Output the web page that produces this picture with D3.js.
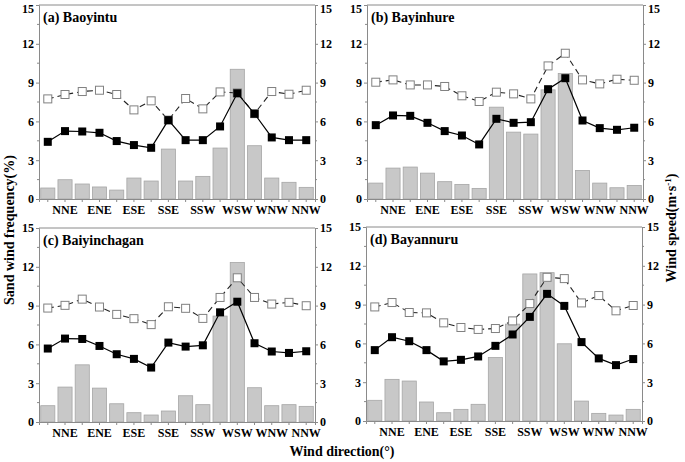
<!DOCTYPE html>
<html>
<head>
<meta charset="utf-8">
<script src="https://cdn.jsdelivr.net/npm/d3@7"></script>
<style>
  body { margin: 0; background: #fff; }
  svg text { font-family: "Liberation Serif", "Times New Roman", serif; font-weight: bold; fill: #000; }
</style>
</head>
<body>
<svg id="chart" width="685" height="462"></svg>
<script>
const directions = ["N", "NNE", "NE", "ENE", "E", "ESE", "SE", "SSE",
  "S", "SSW", "SW", "WSW", "W", "WNW", "NW", "NNW"];
const tickLabels = ["NNE", "ENE", "ESE", "SSE", "SSW", "WSW", "WNW", "NNW"];
const yTicks = [0, 3, 6, 9, 12, 15];

const stations = ["(a) Baoyintu", "(b) Bayinhure", "(c) Baiyinchagan", "(d) Bayannuru"];

// sand wind frequency (%), bars
const freqA = [0.85, 1.49, 1.16, 0.93, 0.69, 1.62, 1.39, 3.86, 1.39, 1.75, 3.94, 10.03, 4.12, 1.62, 1.29, 0.9];
const freqB = [1.23, 2.39, 2.47, 2.0, 1.34, 1.13, 0.82, 7.1, 5.17, 5.02, 8.44, 9.7, 2.21, 1.23, 0.87, 1.05];
const freqC = [1.26, 2.7, 4.42, 2.62, 1.41, 0.72, 0.54, 0.85, 2.03, 1.34, 8.19, 12.33, 2.65, 1.26, 1.34, 1.21];
const freqD = [1.6, 3.22, 3.09, 1.47, 0.64, 0.9, 1.29, 4.91, 7.49, 11.37, 11.47, 5.97, 1.54, 0.59, 0.46, 0.9];

// mean wind speed (m/s), solid line with filled squares
const meanA = [4.42, 5.25, 5.22, 5.12, 4.48, 4.17, 3.96, 6.1, 4.55, 4.55, 5.61, 8.18, 6.59, 4.76, 4.55, 4.55];
const meanB = [5.71, 6.46, 6.43, 5.89, 5.25, 4.91, 4.22, 6.2, 5.89, 5.94, 8.49, 9.34, 6.07, 5.48, 5.35, 5.51];
const meanC = [5.68, 6.45, 6.42, 5.88, 5.24, 4.88, 4.21, 6.14, 5.83, 5.93, 8.48, 9.3, 6.09, 5.45, 5.34, 5.47];
const meanD = [5.48, 6.48, 6.17, 5.48, 4.61, 4.73, 4.99, 5.81, 6.69, 8.05, 9.83, 8.9, 6.1, 4.84, 4.32, 4.79];

// sand wind speed (m/s), dashed line with open squares
const sandA = [7.74, 8.08, 8.31, 8.41, 8.08, 6.89, 7.59, 6.1, 7.77, 6.97, 8.28, 8.2, 6.6, 8.31, 8.1, 8.41];
const sandB = [9.03, 9.21, 8.82, 8.82, 8.7, 7.98, 7.54, 8.26, 8.13, 7.74, 10.29, 11.27, 9.21, 8.9, 9.26, 9.18];
const sandC = [8.81, 9.02, 9.5, 8.89, 8.32, 7.99, 7.53, 8.91, 8.79, 8.01, 9.63, 11.15, 9.63, 9.12, 9.25, 8.99];
const sandD = [8.82, 9.16, 8.39, 8.36, 7.59, 7.23, 7.08, 7.15, 7.74, 9.08, 11.11, 11.01, 9.13, 9.7, 8.52, 8.93];

const panels = [
  { name: stations[0], freq: freqA, mean: meanA, sand: sandA, left: 39, top: 5 },
  { name: stations[1], freq: freqB, mean: meanB, sand: sandB, left: 367, top: 5 },
  { name: stations[2], freq: freqC, mean: meanC, sand: sandC, left: 39, top: 228 },
  { name: stations[3], freq: freqD, mean: meanD, sand: sandD, left: 366, top: 227 },
];

const pw = 276, ph = 194;
const frameColor = "#8a8a8a";
const svg = d3.select("#chart");

const x = d3.scaleBand().domain(directions).range([0, pw]).paddingInner(0.18).paddingOuter(0.1);
const y = d3.scaleLinear().domain([0, 15]).range([ph, 0]);
const cx = (d) => x(d) + x.bandwidth() / 2;

panels.forEach((p) => {
  const g = svg.append("g").attr("transform", `translate(${p.left},${p.top})`);

  // bars
  g.append("g")
    .selectAll("rect")
    .data(directions)
    .join("rect")
    .attr("x", (d) => x(d))
    .attr("y", (d, i) => y(p.freq[i]))
    .attr("width", x.bandwidth())
    .attr("height", (d, i) => ph - y(p.freq[i]))
    .attr("fill", "#c8c8c8")
    .attr("stroke", "#a6a6a6")
    .attr("stroke-width", 0.8);

  // frame top line
  g.append("line").attr("x1", 0).attr("x2", pw).attr("y1", 0).attr("y2", 0)
    .attr("stroke", frameColor);

  const yl = g.append("g").call(d3.axisLeft(y).tickValues(yTicks).tickSize(3).tickPadding(2));
  const yr = g.append("g").attr("transform", `translate(${pw},0)`)
    .call(d3.axisRight(y).tickValues(yTicks).tickSize(3).tickPadding(2));
  const xb = g.append("g").attr("transform", `translate(0,${ph})`)
    .call(d3.axisBottom(x).tickSize(3).tickPadding(3)
      .tickFormat((d) => (tickLabels.includes(d) ? d : "")));

  [yl, yr, xb].forEach((ax) => {
    ax.select(".domain").attr("stroke", frameColor);
    ax.selectAll(".tick line").attr("stroke", frameColor);
    ax.selectAll("text").attr("font-size", 12).attr("fill", "#000");
  });
  // keep the top "15" inside the picture for the upper row
  if (p.top < 10) {
    [yl, yr].forEach((ax) =>
      ax.selectAll(".tick").filter((d) => d === 15).select("text").attr("dy", "0.62em"));
  }

  // minor ticks
  const minor = d3.range(1.5, 15, 3);
  g.append("g").selectAll("line").data(minor).join("line")
    .attr("x1", -2).attr("x2", 0).attr("y1", (d) => y(d)).attr("y2", (d) => y(d))
    .attr("stroke", frameColor);
  g.append("g").selectAll("line").data(minor).join("line")
    .attr("x1", pw).attr("x2", pw + 2).attr("y1", (d) => y(d)).attr("y2", (d) => y(d))
    .attr("stroke", frameColor);

  const line = d3.line().x((d, i) => cx(directions[i])).y((d) => y(d));

  // dashed line with open squares
  g.append("path")
    .attr("d", line(p.sand))
    .attr("fill", "none")
    .attr("stroke", "#222")
    .attr("stroke-width", 1.1)
    .attr("stroke-dasharray", "6,4");
  g.append("g").selectAll("rect").data(p.sand).join("rect")
    .attr("x", (d, i) => cx(directions[i]) - 4)
    .attr("y", (d) => y(d) - 4)
    .attr("width", 8).attr("height", 8)
    .attr("fill", "#fff")
    .attr("stroke", "#808080")
    .attr("stroke-width", 1);

  // solid line with filled squares
  g.append("path")
    .attr("d", line(p.mean))
    .attr("fill", "none")
    .attr("stroke", "#000")
    .attr("stroke-width", 1.2);
  g.append("g").selectAll("rect").data(p.mean).join("rect")
    .attr("x", (d, i) => cx(directions[i]) - 4)
    .attr("y", (d) => y(d) - 4)
    .attr("width", 8).attr("height", 8)
    .attr("fill", "#000");

  // panel title
  g.append("text")
    .attr("x", 4).attr("y", 17)
    .attr("font-size", 14)
    .text(p.name);
});

// axis titles
svg.append("text")
  .attr("transform", "translate(14,230) rotate(-90)")
  .attr("text-anchor", "middle")
  .attr("font-size", 14)
  .text("Sand wind frequency(%)");

const rt = svg.append("text")
  .attr("transform", "translate(676,228) rotate(-90)")
  .attr("text-anchor", "middle")
  .attr("font-size", 14);
rt.append("tspan").text("Wind speed(m·s");
rt.append("tspan").attr("dy", -5).attr("font-size", 9).text("-1");
rt.append("tspan").attr("dy", 5).text(")");

svg.append("text")
  .attr("x", 342).attr("y", 456)
  .attr("text-anchor", "middle")
  .attr("font-size", 14)
  .text("Wind direction(°)");
</script>
</body>
</html>
